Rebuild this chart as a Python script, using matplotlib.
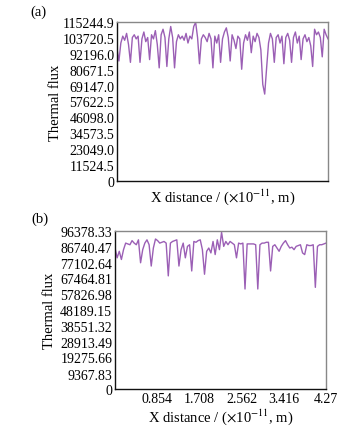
import numpy as np
import matplotlib
matplotlib.use("Agg")
import matplotlib.pyplot as plt

plt.rcParams['font.family'] = ['Liberation Serif', 'DejaVu Serif']
plt.rcParams['mathtext.fontset'] = 'stix'

# ---- data ----
flux_a = np.array([
    96, 87, 100, 105, 102, 107, 99, 86, 104, 106, 103, 105, 86, 103, 108, 101, 104,
    88, 106, 103, 109, 99, 82, 106, 110, 104, 83,
    103, 112, 104, 82, 101, 106, 103, 105, 102, 107, 100, 105, 103, 112, 115, 104,
    85, 103, 106, 104, 101, 107, 103, 82, 105, 100, 106, 86, 103, 108, 111, 104,
    87, 106, 102, 96, 105, 103, 81, 100, 106, 102, 108, 93, 105, 101, 107, 104,
    95, 70, 63, 82, 100, 107, 103, 86, 104, 106, 100, 105, 85, 104, 107, 102,
    86, 104, 108, 100, 105, 88, 103, 106, 101, 104, 98, 83, 110, 106, 108, 104, 90, 110, 106, 103,
]) * 1000.0

flux_b = np.array([
    86, 80, 84, 79, 85, 89, 88.5, 88, 90.5, 89,
    88, 91, 77, 85, 89, 91, 88, 75, 86, 91.5,
    90.5, 89, 89.5, 90, 89, 69, 89, 90, 90.5, 91,
    75, 85, 89, 80, 87, 88, 72, 90, 89.5, 90.5,
    91, 85, 70, 84, 86, 83, 90, 82, 91, 85,
    95.6, 87, 90, 88, 90, 89, 88, 80, 89, 88.5,
    89, 61, 88.5, 88.5, 88.5, 88.5, 88, 61, 88, 89,
    89, 89.5, 89.5, 72, 87, 88, 86, 84, 87, 89,
    90.5, 88, 86, 86.5, 85, 87, 87.5, 88, 83, 82,
    88, 87.5, 87.5, 88, 62, 87, 88, 88, 88.5, 89,
]) * 1000.0

x_max = 4.27
yticks_a = [0, 11524.5, 23049.0, 34573.5, 46098.0, 57622.5, 69147.0,
            80671.5, 92196.0, 103720.5, 115244.9]
yticklabels_a = ['0', '11524.5', '23049.0', '34573.5', '46098.0', '57622.5',
                 '69147.0', '80671.5', '92196.0', '103720.5', '115244.9']
yticks_b = [0, 9367.83, 19275.66, 28913.49, 38551.32, 48189.15, 57826.98,
            67464.81, 77102.64, 86740.47, 96378.33]
yticklabels_b = ['0', '9367.83', '19275.66', '28913.49', '38551.32', '48189.15',
                 '57826.98', '67464.81', '77102.64', '86740.47', '96378.33']
xticks_b = [0.854, 1.708, 2.562, 3.416, 4.27]
xticklabels_b = ['0.854', '1.708', '2.562', '3.416', '4.27']

line_color = '#9b5fb5'
W, H = 351, 427
fig = plt.figure(figsize=(W / 100, H / 100), dpi=100)

def px_axes(l, t, r, b):
    return fig.add_axes([l / W, 1 - b / H, (r - l) / W, (b - t) / H])

def style(ax):
    for s in ['left', 'bottom']:
        ax.spines[s].set_color('#111111')
    for s in ['top', 'right']:
        ax.spines[s].set_color('#888888')
    for s in ax.spines.values():
        s.set_linewidth(1.0)
    ax.tick_params(length=0, pad=2, labelsize=10, colors='black')

xlabel = r'X distance / ($\times$10$^{-11}$, m)'

# panel (a)
ax1 = px_axes(117, 23, 328, 182)
xa = np.linspace(0, x_max, len(flux_a))
ax1.plot(xa, flux_a, color=line_color, lw=1.0)
ax1.set_xlim(0, x_max)
ax1.set_ylim(0, 115244.9)
ax1.set_yticks(yticks_a)
ax1.set_yticklabels(yticklabels_a)
ax1.set_xticks([])
style(ax1)
ax1.set_ylabel('Thermal flux', fontsize=10.5, labelpad=0)
ax1.set_xlabel(xlabel, fontsize=10.5, labelpad=4)
fig.text(30 / W, 1 - 12 / H, '(a)', fontsize=10.5, va='center', ha='left')

# panel (b)
ax2 = px_axes(115, 232, 326, 390)
xb = np.linspace(0, x_max, len(flux_b))
ax2.plot(xb, flux_b, color=line_color, lw=1.0)
ax2.set_xlim(0, x_max)
ax2.set_ylim(0, 96378.33)
ax2.set_yticks(yticks_b)
ax2.set_yticklabels(yticklabels_b)
ax2.set_xticks(xticks_b)
ax2.set_xticklabels(xticklabels_b)
style(ax2)
ax2.set_ylabel('Thermal flux', fontsize=10.5, labelpad=3)
ax2.set_xlabel(xlabel, fontsize=10.5, labelpad=1)
fig.text(31 / W, 1 - 219 / H, '(b)', fontsize=10.5, va='center', ha='left')

fig.savefig('out.png', dpi=100)
